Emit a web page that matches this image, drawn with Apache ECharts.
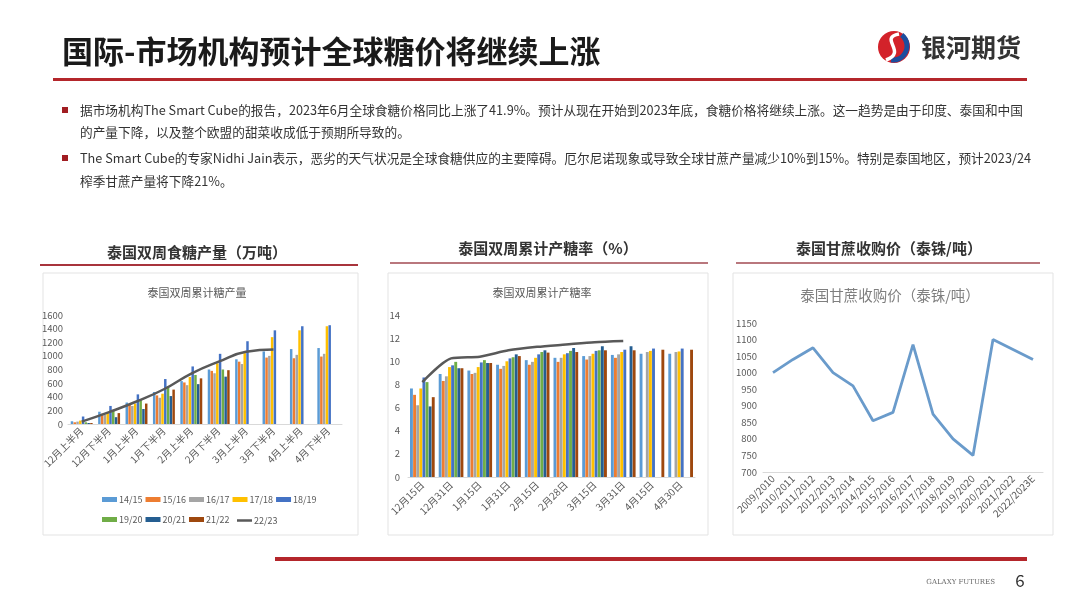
<!DOCTYPE html>
<html>
<head>
<meta charset="utf-8">
<script src="https://cdn.jsdelivr.net/npm/echarts@6/dist/echarts.min.js"></script>
<style>
  html, body { margin: 0; padding: 0; background: #fff; }
  #main { width: 1080px; height: 608px; }
</style>
</head>
<body>
<div id="main"></div>
<script>
// 泰国双周累计糖产量（万吨）
var halfMonths = ['12月上半月','12月下半月','1月上半月','1月下半月','2月上半月','2月下半月','3月上半月','3月下半月','4月上半月','4月下半月'];
var seasons = ['14/15','15/16','16/17','17/18','18/19','19/20','20/21','21/22'];
var lineSeason = '22/23';
var prod1415 = [40, 180, 315, 470, 630, 800, 950, 1065, 1100, 1115];
var prod1516 = [25, 150, 280, 420, 610, 780, 915, 975, 965, 990];
var prod1617 = [35, 140, 265, 385, 570, 745, 880, 1000, 1015, 1030];
var prod1718 = [50, 170, 300, 445, 690, 890, 1040, 1275, 1375, 1435];
var prod1819 = [110, 265, 435, 660, 845, 1030, 1215, 1375, 1435, 1450];
var prod1920 = [25, 200, 350, 555, 720, 800, null, null, null, null];
var prod2021 = [15, 100, 220, 410, 585, 695, null, null, null, null];
var prod2122 = [15, 160, 300, 505, 670, 790, null, null, null, null];
var prod2223 = [35, 175, 330, 510, 740, 915, 1060, 1095];

// 泰国双周累计产糖率（%）
var rateDates = ['12月15日','12月31日','1月15日','1月31日','2月15日','2月28日','3月15日','3月31日','4月15日','4月30日'];
var rate1415 = [7.65, 8.9, 9.2, 9.7, 10.1, 10.3, 10.45, 10.55, 10.65, 10.65];
var rate1516 = [7.1, 8.3, 8.9, 9.35, 9.7, 9.95, 10.15, 10.3, null, null];
var rate1617 = [6.2, 8.7, 9.0, 9.6, 9.95, 10.3, 10.45, 10.6, 10.8, 10.8];
var rate1718 = [7.65, 9.5, 9.5, 10.0, 10.3, 10.6, 10.65, 10.8, 10.9, 10.85];
var rate1819 = [8.6, 9.65, 9.9, 10.25, 10.6, 10.7, 10.9, 11.0, 11.1, 11.1];
var rate1920 = [8.2, 9.95, 10.1, 10.35, 10.8, 10.9, 10.95, null, null, null];
var rate2021 = [6.1, 9.4, 9.85, 10.6, 10.95, 11.15, 11.3, 11.3, null, null];
var rate2122 = [6.9, 9.4, 9.85, 10.45, 10.75, 10.8, 10.95, 10.95, 11.0, 11.0];
var rate2223 = [8.2, 10.25, 10.4, 10.95, 11.25, 11.45, 11.65, 11.75];

// 泰国甘蔗收购价（泰铢/吨）
var caneYears = ['2009/2010','2010/2011','2011/2012','2012/2013','2013/2014','2014/2015','2015/2016','2016/2017','2017/2018','2018/2019','2019/2020','2020/2021','2021/2022','2022/2023E'];
var canePrice = [1000, 1040, 1075, 1000, 960, 855, 880, 1085, 875, 800, 750, 1100, 1070, 1040];

var seasonColors = ['#5B9BD5','#ED7D31','#A5A5A5','#FFC000','#4472C4','#70AD47','#255E91','#9E480E'];
var lineColor = '#595959';
var FONT = '"Noto Sans CJK SC", "Noto Sans", sans-serif';

var prodData = [prod1415, prod1516, prod1617, prod1718, prod1819, prod1920, prod2021, prod2122];
var rateData = [rate1415, rate1516, rate1617, rate1718, rate1819, rate1920, rate2021, rate2122];

var chart = echarts.init(document.getElementById('main'));

function txt(x, y, text, font, fill, align) {
  return { type: 'text', x: x, y: y, silent: true,
    style: { text: text, font: font, fill: fill, align: align || 'left', verticalAlign: 'middle' } };
}
function bar(x, y, w, h, color) {
  return { type: 'rect', silent: true, shape: { x: x, y: y, width: w, height: h }, style: { fill: color } };
}
function box(x, y, w, h) {
  return { type: 'rect', silent: true, z: -1, shape: { x: x, y: y, width: w, height: h },
    style: { fill: '#fff', stroke: '#e3e3e3', lineWidth: 1 } };
}

var bodyFont = '12.7px ' + FONT;
var graphics = [
  // 页面标题
  txt(62, 51, '国际-市场机构预计全球糖价将继续上涨', 'bold 31px ' + FONT, '#1a1a1a'),
  // 银河期货 logo
  { type: 'circle', silent: true, shape: { cx: 894, cy: 47, r: 16 }, style: { fill: '#d3222a' } },
  { type: 'arc', silent: true, shape: { cx: 893, cy: 46, r: 14, startAngle: -0.9, endAngle: 1.7 }, style: { fill: null, stroke: '#1d4e9e', lineWidth: 5 } },
  { type: 'bezierCurve', silent: true, shape: { x1: 899, y1: 34, cpx1: 878, cpy1: 38, cpx2: 908, cpy2: 52, x2: 886, y2: 60 }, style: { fill: null, stroke: '#fff', lineWidth: 3.5 } },
  txt(921, 47, '银河期货', 'bold 25px ' + FONT, '#333'),
  bar(53, 78, 974, 3, '#b4262b'),
  // 要点
  bar(62, 107, 6, 6, '#a11d22'),
  txt(80, 110, '据市场机构The Smart Cube的报告，2023年6月全球食糖价格同比上涨了41.9%。预计从现在开始到2023年底，食糖价格将继续上涨。这一趋势是由于印度、泰国和中国', bodyFont, '#333'),
  txt(80, 132, '的产量下降，以及整个欧盟的甜菜收成低于预期所导致的。', bodyFont, '#333'),
  bar(62, 155, 6, 6, '#a11d22'),
  txt(80, 158, 'The Smart Cube的专家Nidhi Jain表示，恶劣的天气状况是全球食糖供应的主要障碍。厄尔尼诺现象或导致全球甘蔗产量减少10%到15%。特别是泰国地区，预计2023/24', bodyFont, '#333'),
  txt(80, 181, '榨季甘蔗产量将下降21%。', bodyFont, '#333'),
  // 小标题
  txt(197, 252, '泰国双周食糖产量（万吨）', 'bold 15px ' + FONT, '#333', 'center'),
  bar(40, 264, 318, 2, '#a8343c'),
  txt(548, 248, '泰国双周累计产糖率（%）', 'bold 15px ' + FONT, '#333', 'center'),
  bar(390, 262, 318, 2, '#b9777d'),
  txt(889, 248, '泰国甘蔗收购价（泰铢/吨）', 'bold 15px ' + FONT, '#333', 'center'),
  bar(736, 262, 304, 2, '#b9777d'),
  // 图框
  box(43, 273, 315, 262),
  box(388, 273, 320, 262),
  box(733, 273, 320, 262),
  txt(197, 293, '泰国双周累计糖产量', '11px ' + FONT, '#595959', 'center'),
  txt(542, 293, '泰国双周累计产糖率', '11px ' + FONT, '#595959', 'center'),
  txt(890, 295, '泰国甘蔗收购价（泰铢/吨）', '14.5px ' + FONT, '#7f7f7f', 'center'),
  // 页脚
  bar(275, 557, 752, 4, '#b4262b'),
  txt(995, 582, 'GALAXY FUTURES', '7px "DejaVu Serif", serif', '#666', 'right'),
  txt(1020, 581, '6', '17px ' + FONT, '#333', 'center')
];

var axisLabelStyle = { color: '#595959', fontSize: 10, fontFamily: FONT };

function catAxis(grid, data, margin) {
  return {
    type: 'category', gridIndex: grid, data: data,
    axisLine: { lineStyle: { color: '#d9d9d9' } },
    axisTick: { show: false },
    axisLabel: Object.assign({ interval: 0, rotate: 45, margin: margin }, axisLabelStyle)
  };
}
function valAxis(grid, min, max, interval, margin, fontSize) {
  return {
    type: 'value', gridIndex: grid, min: min, max: max, interval: interval,
    axisLine: { show: false }, axisTick: { show: false }, splitLine: { show: false },
    axisLabel: Object.assign({}, axisLabelStyle, { margin: margin, fontSize: fontSize || 9.5,
      formatter: function (v) { return String(v); } })
  };
}

var series = [];
seasons.forEach(function (s, i) {
  series.push({ name: s, type: 'bar', xAxisIndex: 0, yAxisIndex: 0, data: prodData[i],
    itemStyle: { color: seasonColors[i] }, barCategoryGap: '20%', barGap: '12%' });
});
series.push({ name: lineSeason, type: 'line', xAxisIndex: 0, yAxisIndex: 0, data: prod2223,
  smooth: true, symbol: 'none', lineStyle: { color: lineColor, width: 2.5 }, itemStyle: { color: lineColor } });
seasons.forEach(function (s, i) {
  series.push({ name: s, type: 'bar', xAxisIndex: 1, yAxisIndex: 1, data: rateData[i],
    itemStyle: { color: seasonColors[i] }, barCategoryGap: '14%', barGap: '8%' });
});
series.push({ name: lineSeason, type: 'line', xAxisIndex: 1, yAxisIndex: 1, data: rate2223,
  smooth: 0.25, symbol: 'none', lineStyle: { color: lineColor, width: 2.5 }, itemStyle: { color: lineColor } });
series.push({ name: '甘蔗收购价', type: 'line', xAxisIndex: 2, yAxisIndex: 2, data: canePrice,
  symbol: 'none', lineStyle: { color: '#6a9bcb', width: 2.8 }, itemStyle: { color: '#6a9bcb' } });

function legendRow(names, left, top, itemHeight) {
  return {
    left: left, top: top, padding: 0, itemWidth: 15, itemHeight: itemHeight, itemGap: 3, selectedMode: false,
    textStyle: { fontSize: 9, color: '#595959', fontFamily: FONT, padding: [0, 0, 0, -3] },
    data: names.map(function (n) { return { name: n, icon: 'rect' }; })
  };
}

var option = {
  animation: false,
  textStyle: { fontFamily: FONT },
  graphic: graphics,
  legend: [
    legendRow(seasons.slice(0, 5), 102, 495, 5),
    legendRow(seasons.slice(5), 102, 515, 5),
    legendRow([lineSeason], 237, 516, 2.5)
  ],
  grid: [
    { left: 68, top: 315, width: 274, height: 109 },
    { left: 408, top: 315, width: 287, height: 162 },
    { left: 763, top: 323, width: 280, height: 149 }
  ],
  xAxis: [
    catAxis(0, halfMonths, 5),
    catAxis(1, rateDates, 6),
    catAxis(2, caneYears, 5)
  ],
  yAxis: [
    valAxis(0, 0, 1600, 200, 5),
    valAxis(1, 0, 14, 2, 8),
    valAxis(2, 700, 1150, 50, 6)
  ],
  series: series
};
chart.setOption(option);
</script>
</body>
</html>
